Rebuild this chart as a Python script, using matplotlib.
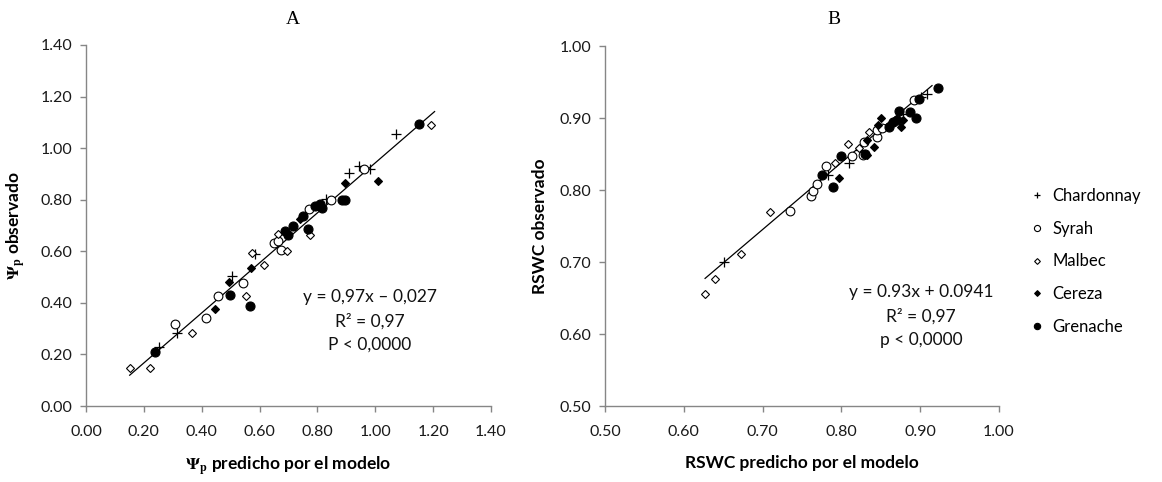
import matplotlib
matplotlib.use("Agg")
import matplotlib.pyplot as plt
import numpy as np

plt.rcParams['font.family'] = ['Lato', 'DejaVu Sans']
plt.rcParams['mathtext.fontset'] = 'stix'

# ---------------- Panel A data (Psi_p) ----------------
A_chard_x = [0.254, 0.314, 0.505, 0.583, 0.831, 0.909, 0.943, 0.983, 1.071]
A_chard_y = [0.230, 0.285, 0.503, 0.588, 0.803, 0.903, 0.929, 0.919, 1.053]
A_syrah_x = [0.309, 0.414, 0.456, 0.541, 0.651, 0.665, 0.674, 0.770, 0.848, 0.962]
A_syrah_y = [0.317, 0.343, 0.426, 0.477, 0.632, 0.640, 0.604, 0.764, 0.800, 0.920]
A_malbec_x = [0.151, 0.222, 0.367, 0.553, 0.574, 0.616, 0.663, 0.694, 0.773, 1.194]
A_malbec_y = [0.148, 0.146, 0.283, 0.428, 0.594, 0.547, 0.668, 0.602, 0.662, 1.089]
A_cereza_x = [0.446, 0.494, 0.570, 0.740, 0.897, 1.011]
A_cereza_y = [0.378, 0.481, 0.537, 0.725, 0.865, 0.871]
A_gren_x = [0.237, 0.497, 0.568, 0.688, 0.699, 0.717, 0.751, 0.768, 0.791, 0.808,
            0.816, 0.886, 0.894, 1.151]
A_gren_y = [0.210, 0.432, 0.387, 0.677, 0.665, 0.697, 0.735, 0.688, 0.774, 0.785,
            0.769, 0.800, 0.800, 1.092]
A_slope, A_intercept = 0.97, -0.027
A_fit_range = [0.151, 1.205]

# ---------------- Panel B data (RSWC) ----------------
B_chard_x = [0.651, 0.783, 0.810, 0.823, 0.878, 0.901, 0.909]
B_chard_y = [0.700, 0.821, 0.837, 0.856, 0.906, 0.929, 0.934]
B_syrah_x = [0.735, 0.762, 0.764, 0.769, 0.781, 0.814, 0.827, 0.829, 0.845, 0.845,
             0.852, 0.892]
B_syrah_y = [0.771, 0.792, 0.799, 0.809, 0.834, 0.847, 0.849, 0.866, 0.873, 0.883,
             0.886, 0.925]
B_malbec_x = [0.627, 0.639, 0.673, 0.710, 0.792, 0.809, 0.822, 0.835]
B_malbec_y = [0.655, 0.676, 0.711, 0.770, 0.838, 0.864, 0.858, 0.880]
B_cereza_x = [0.797, 0.833, 0.833, 0.842, 0.846, 0.850, 0.876, 0.878]
B_cereza_y = [0.817, 0.869, 0.849, 0.860, 0.890, 0.900, 0.888, 0.897]
B_gren_x = [0.775, 0.789, 0.800, 0.830, 0.861, 0.865, 0.870, 0.873, 0.887, 0.895,
            0.899, 0.922]
B_gren_y = [0.821, 0.804, 0.847, 0.850, 0.887, 0.895, 0.897, 0.910, 0.909, 0.900,
            0.927, 0.942]
B_slope, B_intercept = 0.93, 0.0941
B_fit_range = [0.627, 0.915]

varieties = ["Chardonnay", "Syrah", "Malbec", "Cereza", "Grenache"]

styles = {
    "Chardonnay": dict(marker='+', color='black', ms=6.5, mew=0.9, ls='none'),
    "Syrah": dict(marker='o', mfc='white', mec='black', ms=6.3, mew=0.8, ls='none'),
    "Malbec": dict(marker='D', mfc='white', mec='black', ms=4.2, mew=0.8, ls='none'),
    "Cereza": dict(marker='D', mfc='black', mec='black', ms=4.2, mew=0.8, ls='none'),
    "Grenache": dict(marker='o', mfc='black', mec='black', ms=6.5, mew=0.8, ls='none'),
}

fig = plt.figure(figsize=(11.62, 4.82), dpi=100)
axA = fig.add_axes([86/1162, 1-406/482, (491-86)/1162, (406-45)/482])
axB = fig.add_axes([605/1162, 1-406/482, (999-605)/1162, (406-46)/482])

A_data = [(A_chard_x, A_chard_y), (A_syrah_x, A_syrah_y), (A_malbec_x, A_malbec_y),
          (A_cereza_x, A_cereza_y), (A_gren_x, A_gren_y)]
B_data = [(B_chard_x, B_chard_y), (B_syrah_x, B_syrah_y), (B_malbec_x, B_malbec_y),
          (B_cereza_x, B_cereza_y), (B_gren_x, B_gren_y)]

gray = '#868686'
for ax in (axA, axB):
    for s in ('top', 'right'):
        ax.spines[s].set_visible(False)
    for s in ('left', 'bottom'):
        ax.spines[s].set_color(gray)
        ax.spines[s].set_linewidth(1.0)
    ax.tick_params(axis='both', colors=gray, labelcolor='#1a1a1a', labelsize=11.5,
                   length=4, width=1.0, direction='out')
    ax.tick_params(axis='x', pad=10)
    ax.tick_params(axis='y', pad=6)

handles = []
for name, (x, y) in zip(varieties, A_data):
    axA.plot(x, y, **styles[name])
for name, (x, y) in zip(varieties, B_data):
    h, = axB.plot(x, y, label=name, **styles[name])
    handles.append(h)

xa = np.array(A_fit_range)
axA.plot(xa, A_slope * xa + A_intercept, color='black', lw=0.9, zorder=1)
xb = np.array(B_fit_range)
axB.plot(xb, B_slope * xb + B_intercept, color='black', lw=0.9, zorder=1)

fmt = matplotlib.ticker.FormatStrFormatter('%.2f')
axA.set_xlim(0, 1.4)
axA.set_ylim(0, 1.4)
axA.set_xticks(np.arange(0, 1.41, 0.2))
axA.set_yticks(np.arange(0, 1.41, 0.2))
axA.xaxis.set_major_formatter(fmt)
axA.yaxis.set_major_formatter(fmt)

axB.set_xlim(0.5, 1.0)
axB.set_ylim(0.5, 1.0)
axB.set_xticks(np.arange(0.5, 1.001, 0.1))
axB.set_yticks(np.arange(0.5, 1.001, 0.1))
axB.xaxis.set_major_formatter(fmt)
axB.yaxis.set_major_formatter(fmt)

axA.set_xlabel(r'$\mathbf{\Psi}_\mathbf{p}$ predicho por el modelo', fontsize=12.5,
               fontweight='bold', labelpad=11)
axA.set_ylabel(r'$\mathbf{\Psi}_\mathbf{p}$ observado', fontsize=12.5,
               fontweight='bold', labelpad=9)
axB.set_xlabel('RSWC predicho por el modelo', fontsize=12.5, fontweight='bold', labelpad=11)
axB.set_ylabel('RSWC observado', fontsize=12.5, fontweight='bold', labelpad=8)

fig.text(293/1162, 1-19/482, 'A', fontsize=14, family='Liberation Serif',
         ha='center', va='center')
fig.text(834/1162, 1-19/482, 'B', fontsize=14, family='Liberation Serif',
         ha='center', va='center')

for i, t in enumerate(['y = 0,97x – 0,027', 'R² = 0,97', 'P < 0,0000']):
    fig.text(370/1162, 1-(297+24*i)/482, t, fontsize=12.5, ha='center', va='center',
             color='#111111')
for i, t in enumerate(['y = 0.93x + 0.0941', 'R² = 0,97', 'p < 0,0000']):
    fig.text(921/1162, 1-(292+24*i)/482, t, fontsize=12.5, ha='center', va='center',
             color='#111111')

leg = fig.legend(handles=handles, loc='upper left', bbox_to_anchor=(1031/1162, 1-188/482),
                 frameon=False, fontsize=12, handlelength=0.7, handletextpad=0.6,
                 labelspacing=1.0, markerscale=0.7, borderaxespad=0, borderpad=0)

fig.savefig('out.png', dpi=100)
